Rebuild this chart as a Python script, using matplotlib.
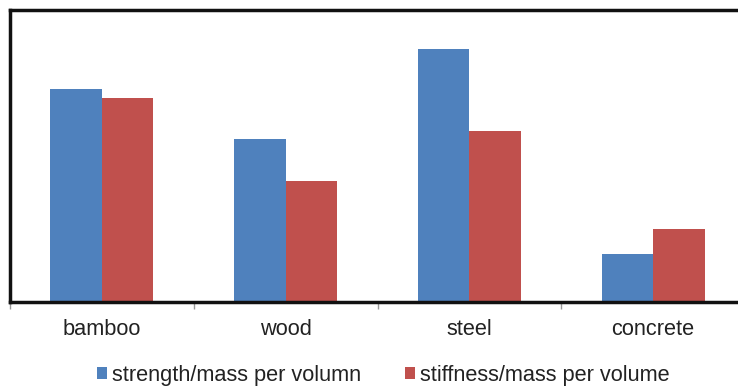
import numpy as np
import matplotlib
matplotlib.use('Agg')
import matplotlib.pyplot as plt
from matplotlib.ticker import FixedLocator

plt.rcParams['font.family'] = ['Liberation Sans', 'DejaVu Sans']

materials = ['bamboo', 'wood', 'steel', 'concrete']
strength = [213, 163, 253, 48]
stiffness = [204, 121, 171, 73]
series_names = ['strength/mass per volumn', 'stiffness/mass per volume']

blue = '#4F81BD'
red = '#C0504D'

fig = plt.figure(figsize=(7.38, 3.88), dpi=100)
W, H = 738, 388
ax = fig.add_axes([10 / W, (H - 302) / H, 735 / W, 292 / H])

x = np.arange(len(materials))
w = 0.28
ax.bar(x - w / 2, strength, w, color=blue, label=series_names[0])
ax.bar(x + w / 2, stiffness, w, color=red, label=series_names[1])

ax.set_xlim(-0.5, len(materials) - 0.5)
ax.set_ylim(0, 292)
ax.set_yticks([])

ax.set_xticks(x)
ax.set_xticklabels(materials, fontsize=15.7, color='#222222')
ax.tick_params(axis='x', which='major', length=0, pad=12)
ax.xaxis.set_minor_locator(FixedLocator(np.arange(-0.5, len(materials) - 0.5, 1.0)))
ax.tick_params(axis='x', which='minor', length=5, width=1, color='#999999', direction='out')

for s in ['left', 'top', 'bottom']:
    ax.spines[s].set_linewidth(2.5)
    ax.spines[s].set_color('#111111')
ax.spines['right'].set_visible(False)

fig.legend(loc='center', bbox_to_anchor=(383 / W, (H - 375) / H), ncol=2, frameon=False,
           fontsize=15.7, handlelength=0.5, handleheight=0.5, handletextpad=0.2,
           columnspacing=2.0, labelcolor='#222222')

fig.savefig('out.png', dpi=100)
